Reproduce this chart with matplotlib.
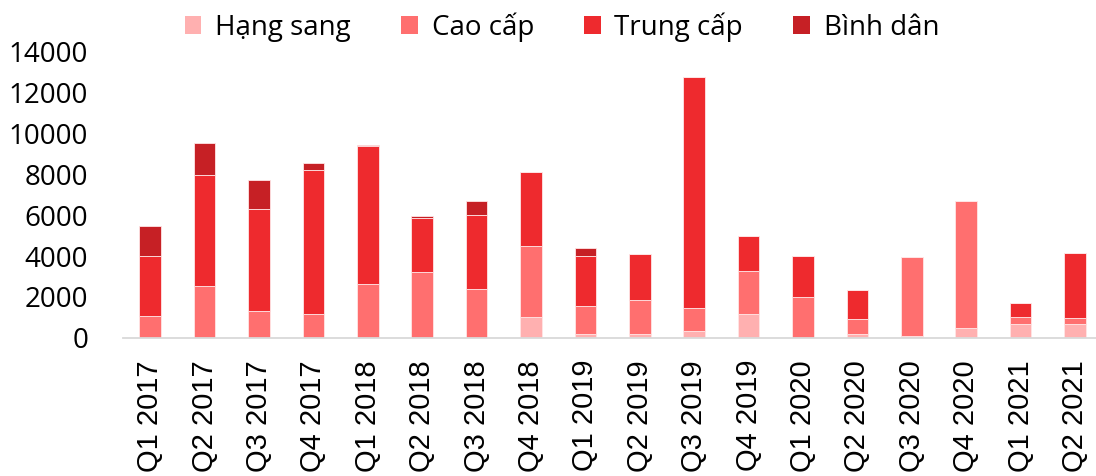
import matplotlib
matplotlib.use("Agg")
import matplotlib.pyplot as plt
import numpy as np
from matplotlib.patches import Patch

categories = ["Q1 2017", "Q2 2017", "Q3 2017", "Q4 2017", "Q1 2018", "Q2 2018",
              "Q3 2018", "Q4 2018", "Q1 2019", "Q2 2019", "Q3 2019", "Q4 2019",
              "Q1 2020", "Q2 2020", "Q3 2020", "Q4 2020", "Q1 2021", "Q2 2021"]
hang_sang = [0, 0, 0, 0, 0, 0, 0, 1000, 180, 180, 330, 1160, 0, 180, 100, 480, 670, 670]
cao_cap = [1050, 2550, 1300, 1180, 2630, 3200, 2400, 3500, 1390, 1650, 1120, 2110, 2000, 720, 3850, 6200, 340, 290]
trung_cap = [2950, 5400, 4990, 7040, 6750, 2650, 3600, 3600, 2430, 2290, 11330, 1730, 2000, 1420, 0, 0, 690, 3190]
binh_dan = [1450, 1600, 1460, 330, 50, 130, 700, 0, 420, 0, 0, 0, 0, 0, 0, 0, 0, 0]
series_names = ["Hạng sang", "Cao cấp", "Trung cấp", "Bình dân"]
yticks = [0, 2000, 4000, 6000, 8000, 10000, 12000, 14000]

colors = ["#FFB0B0", "#FF6F6F", "#EE2A2E", "#C62025"]

W, H = 1096, 476
fig = plt.figure(figsize=(W / 100, H / 100), dpi=100)
left = 123 / W
bottom = 1 - 337.7 / H
top = 1 - 52 / H
ax = fig.add_axes([left, bottom, 1 - left, top - bottom])

x = np.arange(len(categories))
base = np.zeros(len(categories))
handles = []
for name, vals, c in zip(series_names, [hang_sang, cao_cap, trung_cap, binh_dan], colors):
    v = np.array(vals, dtype=float)
    ax.bar(x, v, width=0.4, bottom=base, color=c, edgecolor="#FFE5E5", linewidth=0.6, zorder=2)
    base = base + v
    handles.append(Patch(facecolor=c, edgecolor="none", label=name))

slot_px = 54.4
ax.set_xlim(-0.5, -0.5 + (W - 123) / slot_px)
ax.set_ylim(0, 14000)
ax.set_yticks(yticks)
ax.set_yticklabels([str(t) for t in yticks], fontfamily="Open Sans", fontsize=20)
ax.set_xticks(x)
ax.set_xticklabels(categories, rotation=90, fontfamily="Liberation Sans", fontsize=21,
                   va="top", ha="center")
ax.tick_params(axis="x", length=0, pad=16)
ax.tick_params(axis="y", length=0, pad=25)
for s in ["top", "right", "left"]:
    ax.spines[s].set_visible(False)
ax.spines["bottom"].set_color("#D9D9D9")
ax.spines["bottom"].set_linewidth(1.3)
ax.spines["bottom"].set_zorder(3)

fig.legend(handles=handles, loc="center", bbox_to_anchor=(562 / W, 1 - 27 / H), ncol=4,
           frameon=False, prop={"family": "Open Sans", "size": 20},
           handlelength=0.6, handleheight=0.6, handletextpad=0.5, columnspacing=1.8,
           borderaxespad=0, borderpad=0)

fig.savefig("out.png", dpi=100)
